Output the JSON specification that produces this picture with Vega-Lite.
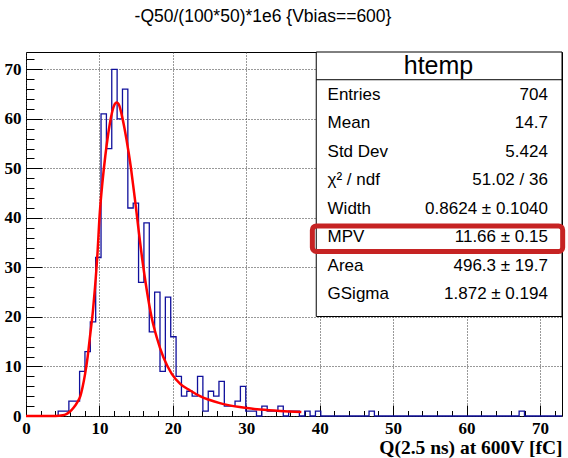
{
  "$schema": "https://vega.github.io/schema/vega-lite/v6.json",
  "width": 536,
  "height": 364,
  "autosize": {"type": "none"},
  "padding": {"left": 26, "top": 52, "right": 6, "bottom": 42},
  "background": "white",
  "config": {"view": {"stroke": "black", "strokeWidth": 1}},
  "title": {"text": "-Q50/(100*50)*1e6 {Vbias==600}", "font": "Liberation Sans", "fontSize": 17.5, "fontWeight": "normal", "color": "black", "anchor": "middle", "dx": -31, "offset": 26},
  "datasets": {
    "hist": [
      {"lo": 0, "n": 0}, {"lo": 4.38, "n": 1}, {"lo": 5.11, "n": 1}, {"lo": 5.84, "n": 3}, {"lo": 6.57, "n": 3},
      {"lo": 7.3, "n": 9}, {"lo": 8.03, "n": 13}, {"lo": 8.76, "n": 19}, {"lo": 9.49, "n": 32}, {"lo": 10.22, "n": 61},
      {"lo": 10.95, "n": 54}, {"lo": 11.68, "n": 70}, {"lo": 12.41, "n": 60}, {"lo": 13.14, "n": 66}, {"lo": 13.87, "n": 42},
      {"lo": 14.6, "n": 43}, {"lo": 15.33, "n": 27}, {"lo": 16.06, "n": 39}, {"lo": 16.79, "n": 17}, {"lo": 17.52, "n": 25},
      {"lo": 18.25, "n": 9}, {"lo": 18.98, "n": 24}, {"lo": 19.71, "n": 16}, {"lo": 20.44, "n": 8}, {"lo": 21.17, "n": 4},
      {"lo": 21.9, "n": 5}, {"lo": 22.63, "n": 4}, {"lo": 23.36, "n": 8}, {"lo": 24.09, "n": 1}, {"lo": 24.82, "n": 5},
      {"lo": 25.55, "n": 4}, {"lo": 26.28, "n": 7}, {"lo": 27.01, "n": 2}, {"lo": 27.74, "n": 2}, {"lo": 28.47, "n": 3},
      {"lo": 29.2, "n": 6}, {"lo": 29.93, "n": 1}, {"lo": 30.66, "n": 1}, {"lo": 31.39, "n": 0}, {"lo": 32.12, "n": 2},
      {"lo": 32.85, "n": 1}, {"lo": 33.58, "n": 1}, {"lo": 34.31, "n": 2}, {"lo": 35.04, "n": 0}, {"lo": 35.77, "n": 1},
      {"lo": 36.5, "n": 1}, {"lo": 37.23, "n": 0}, {"lo": 37.96, "n": 1}, {"lo": 38.69, "n": 0}, {"lo": 39.42, "n": 1},
      {"lo": 40.15, "n": 0}, {"lo": 46.72, "n": 1}, {"lo": 47.45, "n": 0}, {"lo": 67.16, "n": 1}, {"lo": 67.89, "n": 0},
      {"lo": 73, "n": 0}
    ],
    "fit": [
      {"q": 0, "f": 0}, {"q": 4, "f": 0.02}, {"q": 5, "f": 0.15}, {"q": 5.5, "f": 0.4}, {"q": 6, "f": 0.9},
      {"q": 6.5, "f": 1.7}, {"q": 7, "f": 2.8}, {"q": 7.4, "f": 4}, {"q": 7.7, "f": 5.8}, {"q": 8.05, "f": 8.5},
      {"q": 8.4, "f": 12}, {"q": 8.75, "f": 16.5}, {"q": 9.1, "f": 21}, {"q": 9.4, "f": 26}, {"q": 9.7, "f": 32},
      {"q": 10.05, "f": 41}, {"q": 10.4, "f": 47}, {"q": 10.8, "f": 52.5}, {"q": 11.2, "f": 57}, {"q": 11.6, "f": 60.5},
      {"q": 12, "f": 62.7}, {"q": 12.35, "f": 63.3}, {"q": 12.7, "f": 62.7}, {"q": 13.05, "f": 60.7}, {"q": 13.4, "f": 58.2},
      {"q": 13.7, "f": 55.7}, {"q": 14, "f": 53}, {"q": 14.3, "f": 50}, {"q": 14.6, "f": 46.5}, {"q": 14.9, "f": 43},
      {"q": 15.3, "f": 38}, {"q": 15.8, "f": 32}, {"q": 16.45, "f": 25.4}, {"q": 17.1, "f": 20}, {"q": 17.8, "f": 15.9},
      {"q": 18.7, "f": 11.9}, {"q": 19.85, "f": 8.5}, {"q": 21, "f": 6.5}, {"q": 22.3, "f": 5.2}, {"q": 23.7, "f": 4.0},
      {"q": 26.4, "f": 2.6}, {"q": 29.1, "f": 1.8}, {"q": 31.9, "f": 1.3}, {"q": 34.6, "f": 1.0}, {"q": 37.5, "f": 0.8}
    ],
    "stats": [
      {"stat": "Entries", "val": "704"},
      {"stat": "Mean", "val": "14.7"},
      {"stat": "Std Dev", "val": "5.424"},
      {"stat": "χ² / ndf", "val": "51.02 / 36"},
      {"stat": "Width", "val": "0.8624 ± 0.1040"},
      {"stat": "MPV", "val": "11.66 ± 0.15"},
      {"stat": "Area", "val": "496.3 ± 19.7"},
      {"stat": "GSigma", "val": "1.872 ± 0.194"}
    ]
  },
  "layer": [
    {
      "layer": [
        {
          "data": {"name": "hist"},
          "mark": {"type": "line", "interpolate": "step-after", "color": "#10109c", "strokeWidth": 1.3},
          "encoding": {
            "x": {"field": "lo", "type": "quantitative", "scale": {"domain": [0, 73], "nice": false, "zero": false},
              "axis": {"orient": "bottom", "values": [0, 10, 20, 30, 40, 50, 60, 70], "tickSize": -11, "tickColor": "black", "tickWidth": 1,
                "labelPadding": 15, "labelFont": "Liberation Serif", "labelFontWeight": "bold", "labelFontSize": 17, "labelColor": "black", "labelFlush": false,
                "domain": false, "grid": true, "gridDash": [1, 2], "gridColor": "#333", "gridWidth": 1,
                "title": "Q(2.5 ns) at 600V [fC]", "titleFont": "Liberation Serif", "titleFontWeight": "bold", "titleFontSize": 19.5, "titleColor": "black",
                "titleAnchor": "end", "titleAlign": "right", "titleX": 536, "titleY": 31, "titleBaseline": "middle"}},
            "y": {"field": "n", "type": "quantitative", "scale": {"domain": [0, 73.5], "nice": false, "zero": false},
              "axis": {"orient": "left", "values": [0, 10, 20, 30, 40, 50, 60, 70], "tickSize": -16, "tickColor": "black", "tickWidth": 1,
                "labelPadding": 21, "labelFont": "Liberation Serif", "labelFontWeight": "bold", "labelFontSize": 17, "labelColor": "black", "labelFlush": false,
                "domain": false, "grid": true, "gridDash": [1, 2], "gridColor": "#333", "gridWidth": 1, "title": null}}
          }
        },
        {
          "data": {"name": "fit"},
          "mark": {"type": "line", "interpolate": "monotone", "color": "#ff0000", "strokeWidth": 2.5},
          "encoding": {
            "x": {"field": "q", "type": "quantitative", "scale": {"domain": [0, 73], "nice": false, "zero": false},
              "axis": {"orient": "bottom", "values": [2, 4, 6, 8, 12, 14, 16, 18, 22, 24, 26, 28, 32, 34, 36, 38, 42, 44, 46, 48, 52, 54, 56, 58, 62, 64, 66, 68, 72],
                "tickSize": -5.5, "tickColor": "black", "labels": false, "domain": false, "grid": false, "title": null}},
            "y": {"field": "f", "type": "quantitative", "scale": {"domain": [0, 73.5], "nice": false, "zero": false},
              "axis": {"orient": "left", "values": [2, 4, 6, 8, 12, 14, 16, 18, 22, 24, 26, 28, 32, 34, 36, 38, 42, 44, 46, 48, 52, 54, 56, 58, 62, 64, 66, 68, 72],
                "tickSize": -8, "tickColor": "black", "labels": false, "domain": false, "grid": false, "title": null}}
          }
        },
        {
          "data": {"values": [{}]},
          "mark": {"type": "rect", "fill": "white", "stroke": "black", "strokeWidth": 1},
          "encoding": {
            "x": {"datum": 39.53, "type": "quantitative", "scale": {"domain": [0, 73], "nice": false, "zero": false}, "axis": null},
            "x2": {"datum": 73},
            "y": {"datum": 20.09, "type": "quantitative", "scale": {"domain": [0, 73.5], "nice": false, "zero": false}, "axis": null},
            "y2": {"datum": 73.5}
          }
        },
        {
          "data": {"values": [{}]},
          "mark": {"type": "rule", "color": "black", "strokeWidth": 1},
          "encoding": {
            "x": {"datum": 39.53, "type": "quantitative", "scale": {"domain": [0, 73], "nice": false, "zero": false}, "axis": null},
            "x2": {"datum": 73},
            "y": {"datum": 67.9, "type": "quantitative", "scale": {"domain": [0, 73.5], "nice": false, "zero": false}, "axis": null}
          }
        },
        {
          "data": {"values": [{}]},
          "mark": {"type": "text", "text": "htemp", "font": "Liberation Sans", "fontSize": 25, "color": "black", "align": "center", "baseline": "middle"},
          "encoding": {
            "x": {"datum": 56.18, "type": "quantitative", "scale": {"domain": [0, 73], "nice": false, "zero": false}, "axis": null},
            "y": {"datum": 70.68, "type": "quantitative", "scale": {"domain": [0, 73.5], "nice": false, "zero": false}, "axis": null}
          }
        },
        {
          "data": {"values": [{}]},
          "mark": {"type": "rect", "fillOpacity": 0, "stroke": "#c62323", "strokeWidth": 5, "cornerRadius": 4, "clip": false},
          "encoding": {
            "x": {"datum": 39.0, "type": "quantitative", "scale": {"domain": [0, 73], "nice": false, "zero": false}, "axis": null},
            "x2": {"datum": 73.09},
            "y": {"datum": 33.23, "type": "quantitative", "scale": {"domain": [0, 73.5], "nice": false, "zero": false}, "axis": null},
            "y2": {"datum": 38.38}
          }
        }
      ],
      "resolve": {"axis": {"x": "independent", "y": "independent"}}
    },
    {
      "data": {"name": "stats"},
      "mark": {"type": "text", "font": "Liberation Sans", "fontSize": 17, "color": "black", "align": "left", "baseline": "middle"},
      "encoding": {
        "x": {"datum": 41.07, "type": "quantitative", "scale": {"domain": [0, 73], "nice": false, "zero": false}, "axis": null},
        "y": {"field": "stat", "type": "ordinal", "scale": {"type": "point", "domain": ["Entries", "Mean", "Std Dev", "χ² / ndf", "Width", "MPV", "Area", "GSigma"], "range": [43, 242], "padding": 0}, "axis": null},
        "text": {"field": "stat"}
      }
    },
    {
      "data": {"name": "stats"},
      "mark": {"type": "text", "font": "Liberation Sans", "fontSize": 17, "color": "black", "align": "right", "baseline": "middle"},
      "encoding": {
        "x": {"datum": 71.08, "type": "quantitative", "scale": {"domain": [0, 73], "nice": false, "zero": false}, "axis": null},
        "y": {"field": "stat", "type": "ordinal", "scale": {"type": "point", "domain": ["Entries", "Mean", "Std Dev", "χ² / ndf", "Width", "MPV", "Area", "GSigma"], "range": [43, 242], "padding": 0}, "axis": null},
        "text": {"field": "val"}
      }
    }
  ],
  "resolve": {"scale": {"y": "independent"}}
}
